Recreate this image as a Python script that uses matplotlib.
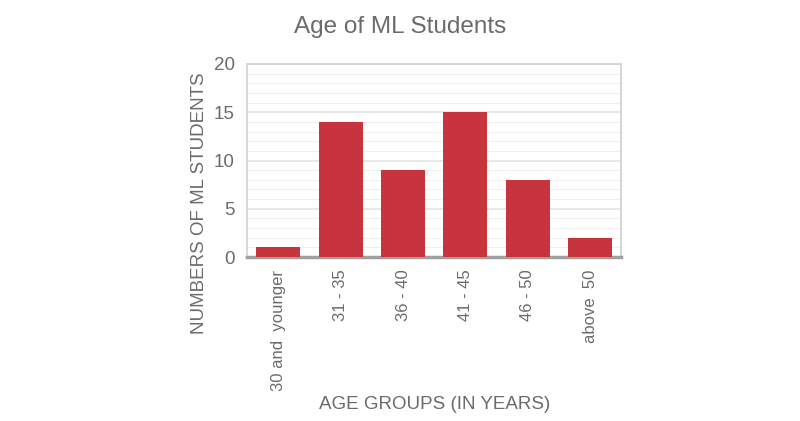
import matplotlib
matplotlib.use("Agg")
import matplotlib.pyplot as plt
from matplotlib.ticker import MultipleLocator

plt.rcParams['font.family'] = ['Liberation Sans', 'DejaVu Sans']

age_groups = ['30 and  younger', '31 - 35', '36 - 40', '41 - 45', '46 - 50', 'above  50']
students = [1, 14, 9, 15, 8, 2]

text_gray = '#6b6b6b'
bar_red = '#c7343d'

fig = plt.figure(figsize=(8, 4.21), dpi=100)
ax = fig.add_axes([0.309, 0.3895, 0.4675, 0.4585])

ax.bar(range(len(age_groups)), students, width=0.71, color=bar_red, zorder=3)

ax.set_xlim(-0.5, len(age_groups) - 0.5)
ax.set_ylim(0, 20)
ax.yaxis.set_major_locator(MultipleLocator(5))
ax.yaxis.set_minor_locator(MultipleLocator(1))
ax.grid(axis='y', which='major', color='#e4e4e4', linewidth=1.2, zorder=0)
ax.grid(axis='y', which='minor', color='#efefef', linewidth=0.8, zorder=0)

ax.set_xticks(range(len(age_groups)))
ax.set_xticklabels(age_groups, rotation=90, fontsize=12, color=text_gray)
ax.tick_params(axis='y', labelsize=13.5, labelcolor=text_gray, length=0, pad=9)
ax.tick_params(axis='x', length=0, pad=9)
ax.tick_params(which='minor', length=0)

for side in ['left', 'right', 'top']:
    ax.spines[side].set_color('#d0d0d0')
    ax.spines[side].set_linewidth(1.2)
ax.spines['bottom'].set_color('#a0a0a0')
ax.spines['bottom'].set_linewidth(2.5)

ax.set_xlabel('AGE GROUPS (IN YEARS)', fontsize=13.5, color=text_gray, labelpad=4)
ax.set_ylabel('NUMBERS OF ML STUDENTS', fontsize=13.5, color=text_gray)
ax.yaxis.set_label_coords(-0.105, 0.28)

fig.text(0.5, 0.935, 'Age of ML Students', ha='center', va='center', fontsize=17.5, color=text_gray)

fig.savefig('out.png', dpi=100)
